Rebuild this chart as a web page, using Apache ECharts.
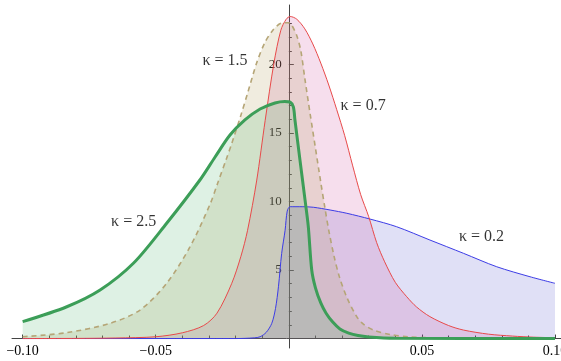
<!DOCTYPE html>
<html>
<head>
<meta charset="utf-8">
<script src="https://cdn.jsdelivr.net/npm/echarts@6/dist/echarts.min.js"></script>
<style>html,body{margin:0;padding:0;background:#fff}#c{width:561px;height:361px}</style>
</head>
<body>
<div id="c"></div>
<script>
// ---- data ----
var blueX = [-0.10,-0.02,-0.013,-0.0108,-0.0085,-0.0064,-0.005,-0.0039,-0.0027,-0.0014,-0.0006,0.0005,0.005,0.0092,0.0155,0.0218,0.0305,0.0405,0.053,0.0656,0.0781,0.0906,0.10];
var blueY = [0,0,0.05,0.13,0.45,1.11,2.2,3.78,6.2,7.9,9.3,9.62,9.62,9.58,9.38,9.14,8.72,8.16,7.19,6.22,5.24,4.51,4.03];

var redX = [-0.10,-0.08,-0.065,-0.05,-0.04,-0.032,-0.027,-0.0215,-0.018,-0.0155,-0.0121,-0.0089,-0.0056,-0.003,-0.001,0.0005,0.003,0.006,0.009,0.012,0.015,0.018,0.021,0.024,0.027,0.030,0.033,0.036,0.040,0.0443,0.048,0.053,0.06,0.0656,0.075,0.084,0.092,0.10];
var redY = [0,0.01,0.04,0.13,0.42,0.95,1.85,4.0,6.0,7.9,11.5,15.9,20.1,22.5,23.3,23.5,23.3,22.6,21.5,20.1,18.5,16.7,14.8,12.6,10.5,8.9,7.0,5.6,4.1,3.05,2.3,1.6,0.95,0.62,0.32,0.18,0.1,0.06];

var olivX = [-0.10,-0.0834,-0.0672,-0.0559,-0.0459,-0.0371,-0.0296,-0.0268,-0.0233,-0.0215,-0.018,-0.0155,-0.0121,-0.009,-0.006,-0.003,0.0,0.001,0.003,0.0045,0.006,0.008,0.010,0.012,0.0135,0.015,0.017,0.019,0.0218,0.0255,0.028,0.032,0.038,0.045,0.06,0.10];
var olivY = [0.13,0.43,1.11,2.08,4.03,6.7,9.8,11.3,13.2,14.2,16.3,17.9,20.1,21.6,22.5,23.0,23.05,22.9,22.1,21.0,19.0,16.4,13.9,11.4,9.6,7.9,6.0,4.5,3.0,1.6,1.05,0.6,0.3,0.12,0.03,0];

var greenX = [-0.10,-0.0834,-0.0709,-0.0584,-0.0459,-0.0334,-0.0277,-0.0221,-0.0165,-0.0108,-0.0052,-0.0015,0.0005,0.0017,0.0023,0.0042,0.0061,0.0073,0.0086,0.010,0.012,0.014,0.0165,0.0192,0.0225,0.026,0.030,0.040,0.10];
var greenY = [1.23,2.32,3.54,5.49,8.41,11.57,13.25,14.85,15.95,16.75,17.19,17.3,17.25,16.9,15.95,13.0,10.1,8.2,5.0,3.7,2.6,1.85,1.2,0.7,0.4,0.22,0.12,0.03,0];

var seriesNames = ['κ = 0.2','κ = 0.7','κ = 1.5','κ = 2.5'];
var labelX = [0.0724, 0.0279, -0.0240, -0.0583];
var labelY = [7.4, 17.0, 20.3, 8.5];

var xMajor = [-0.10,-0.05,0.05,0.10];
var xMinor = [-0.09,-0.08,-0.07,-0.06,-0.04,-0.03,-0.02,-0.01,0.01,0.02,0.03,0.04,0.06,0.07,0.08,0.09];
var yMajor = [5,10,15,20];
var yMinor = [1,2,3,4,6,7,8,9,11,12,13,14,16,17,18,19,21,22,23];

function pairs(xs, ys){ return xs.map(function(x,i){ return [x, ys[i]]; }); }

var FONT = '"Liberation Serif","Times New Roman",serif';
var AX = '#444';
var XMIN = -0.104, XMAX = 0.10225, YMIN = -0.69, YMAX = 24.34;

var chart = echarts.init(document.getElementById('c'), null, {renderer:'canvas'});

function xAxisDef(ticks, len, labels, off){
  return {
    type:'value', min:XMIN, max:XMAX, gridIndex:0, position:'bottom', offset:off,
    axisLine:{show:labels, onZero:false, lineStyle:{color:AX, width:1}},
    axisTick:{show:true, inside:true, length:len, customValues:ticks, lineStyle:{color:AX, width:1}},
    axisLabel:{show:labels, customValues:labels?ticks:[], margin:6, color:'#000', fontFamily:FONT, fontSize:14,
      formatter:function(v){ return (v<0?'\u2212':'') + Math.abs(v).toFixed(2); }},
    splitLine:{show:false}
  };
}
function yAxisDef(ticks, len, labels, off){
  return {
    type:'value', min:YMIN, max:YMAX, gridIndex:0, position:'left', offset:off,
    axisLine:{show:labels, onZero:false, lineStyle:{color:AX, width:1}},
    axisTick:{show:true, inside:true, length:len, customValues:ticks, lineStyle:{color:AX, width:1}},
    axisLabel:{show:labels, customValues:labels?ticks:[], margin:7, color:'#000', fontFamily:FONT, fontSize:13},
    splitLine:{show:false}
  };
}

function lineSeries(xs, ys, color, fill, width, dashed){
  return {
    type:'line', xAxisIndex:0, yAxisIndex:0, data:pairs(xs, ys), showSymbol:false, symbol:'none',
    smooth:0.3, lineStyle:{color:color, width:width, type:dashed?[5,4]:'solid'},
    areaStyle:{color:fill, origin:0}, z:2
  };
}

var labelData = seriesNames.map(function(n,i){ return {name:n, value:[labelX[i], labelY[i]]}; });

function build(xo, yo){
  return {
    animation:false,
    backgroundColor:'#fff',
    grid:{left:12, right:0, top:5, bottom:13, containLabel:false, outerBoundsMode:'none'},
    xAxis:[xAxisDef(xMajor, 4, true, xo), xAxisDef(xMinor, 3, false, xo)],
    yAxis:[yAxisDef(yMajor, 5, true, yo), yAxisDef(yMinor, 3, false, yo)],
    series:[
      lineSeries(blueX, blueY, '#3c3ce6', 'rgba(70,70,200,0.24)', 1, false),
      lineSeries(redX, redY, '#e84a4a', 'rgba(200,60,150,0.24)', 1, false),
      lineSeries(olivX, olivY, '#b5a576', 'rgba(180,160,90,0.28)', 1.6, true),
      lineSeries(greenX, greenY, '#3c9e58', 'rgba(70,175,100,0.25)', 3, false),
      {
        type:'scatter', data:labelData, symbolSize:0, silent:true, z:5,
        label:{show:true, position:'inside', formatter:'{b}', color:'#000', fontFamily:FONT, fontSize:16}
      }
    ]
  };
}

chart.setOption(build(0, 0));
// put the axes through the origin, as in the original
var px0 = chart.convertToPixel({xAxisIndex:0}, 0);
var pxMin = chart.convertToPixel({xAxisIndex:0}, XMIN);
var py0 = chart.convertToPixel({yAxisIndex:0}, 0);
var pyMin = chart.convertToPixel({yAxisIndex:0}, YMIN);
chart.setOption(build(-(pyMin - py0), -(px0 - pxMin)), true);
</script>
</body>
</html>
